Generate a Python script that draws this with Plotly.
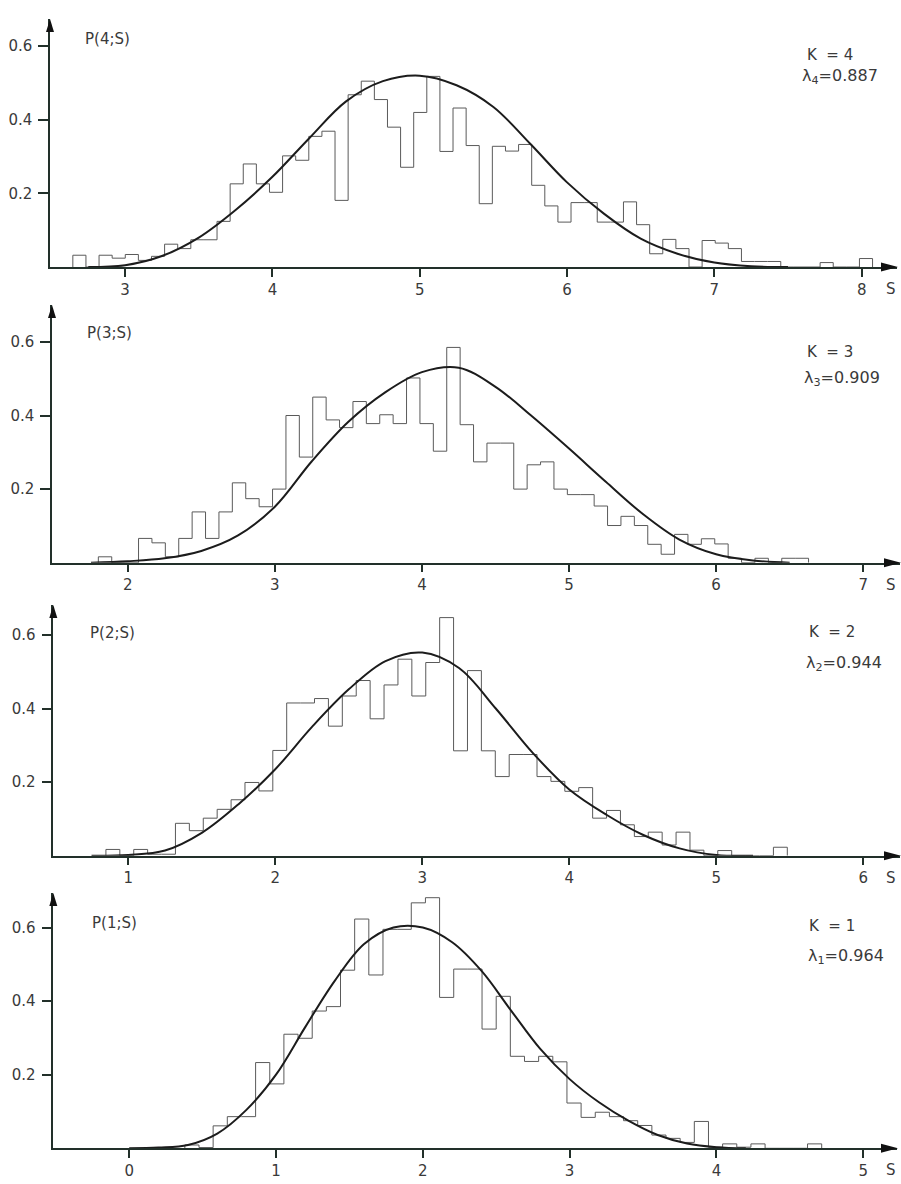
import numpy as np
import plotly.graph_objects as go

W, H = 901, 1184

# ---- K = 4 ----
k4_start, k4_width = 2.645, 0.089
k4_hist = [0.032, 0, 0.032, 0.024, 0.034, 0.018, 0.029, 0.062, 0.05, 0.074,
           0.074, 0.124, 0.226, 0.28, 0.226, 0.203, 0.302, 0.29, 0.355, 0.369,
           0.181, 0.468, 0.505, 0.455, 0.38, 0.271, 0.42, 0.518, 0.314, 0.432,
           0.33, 0.172, 0.328, 0.315, 0.333, 0.222, 0.166, 0.122, 0.175, 0.175,
           0.122, 0.122, 0.177, 0.115, 0.036, 0.075, 0.05, 0, 0.072, 0.065,
           0.05, 0.015, 0.015, 0.015, 0, 0, 0, 0.012, 0, 0, 0.023]
k4_curve_s = [2.75, 3.0, 3.25, 3.5, 3.75, 4.0, 4.25, 4.5, 4.75, 5.0, 5.25, 5.5,
              5.75, 6.0, 6.25, 6.5, 6.75, 7.0, 7.25, 7.5]
k4_curve_p = [0, 0.005, 0.03, 0.08, 0.155, 0.245, 0.35, 0.45, 0.505, 0.52, 0.494,
              0.435, 0.335, 0.23, 0.145, 0.077, 0.036, 0.012, 0.002, 0]

# ---- K = 3 ----
k3_start, k3_width = 1.80, 0.0911
k3_hist = [0.016, 0, 0, 0.066, 0.054, 0.016, 0.066, 0.138, 0.066, 0.138,
           0.217, 0.174, 0.152, 0.2, 0.4, 0.287, 0.45, 0.388, 0.367, 0.438,
           0.378, 0.402, 0.378, 0.502, 0.378, 0.303, 0.585, 0.375, 0.274, 0.325,
           0.325, 0.2, 0.266, 0.274, 0.2, 0.185, 0.185, 0.154, 0.101, 0.126,
           0.101, 0.05, 0.023, 0.077, 0.05, 0.065, 0.051, 0.012, 0, 0.012,
           0, 0.012, 0.012]
k3_curve_s = [1.75, 2.0, 2.25, 2.5, 2.75, 3.0, 3.25, 3.5, 3.75, 4.0, 4.25,
              4.5, 4.75, 5.0, 5.25, 5.5, 5.75, 6.0, 6.25, 6.5]
k3_curve_p = [0, 0.004, 0.012, 0.032, 0.074, 0.152, 0.275, 0.383, 0.463, 0.518,
              0.53, 0.478, 0.397, 0.31, 0.22, 0.133, 0.063, 0.023, 0.006, 0]

# ---- K = 2 ----
k2_start, k2_width = 0.848, 0.0946
k2_hist = [0.017, 0, 0.017, 0.004, 0.004, 0.088, 0.068, 0.102, 0.126, 0.152,
           0.199, 0.176, 0.286, 0.415, 0.415, 0.427, 0.352, 0.434, 0.476, 0.372,
           0.464, 0.534, 0.434, 0.525, 0.647, 0.285, 0.503, 0.285, 0.215, 0.275,
           0.275, 0.215, 0.202, 0.175, 0.185, 0.102, 0.123, 0.084, 0.052, 0.064,
           0.029, 0.064, 0.015, 0, 0.014, 0, 0, 0, 0.023]
k2_curve_s = [0.75, 1.0, 1.25, 1.5, 1.75, 2.0, 2.25, 2.5, 2.75, 3.0,
              3.25, 3.5, 3.75, 4.0, 4.25, 4.5, 4.75, 5.0, 5.25]
k2_curve_p = [0, 0.002, 0.014, 0.062, 0.14, 0.235, 0.35, 0.452, 0.529, 0.552,
              0.51, 0.40, 0.28, 0.18, 0.112, 0.057, 0.02, 0.002, 0]

# ---- K = 1 ----
k1_start, k1_width = 0.379, 0.0964
k1_hist = [0.009, 0.002, 0.061, 0.086, 0.086, 0.233, 0.175, 0.31, 0.299, 0.373,
           0.385, 0.484, 0.623, 0.471, 0.595, 0.595, 0.667, 0.681, 0.41, 0.487,
           0.487, 0.324, 0.413, 0.25, 0.236, 0.25, 0.235, 0.123, 0.084, 0.098,
           0.086, 0.075, 0.062, 0.036, 0.027, 0.016, 0.073, 0.003, 0.012, 0.003,
           0.012, 0, 0, 0, 0.012]
k1_curve_s = [0.0, 0.2, 0.4, 0.6, 0.8, 1.0, 1.2, 1.4, 1.6, 1.8, 2.0, 2.2,
              2.4, 2.6, 2.8, 3.0, 3.2, 3.4, 3.6, 3.8, 4.0, 4.2]
k1_curve_p = [0, 0.002, 0.009, 0.04, 0.105, 0.2, 0.33, 0.455, 0.555, 0.6, 0.6,
              0.56, 0.482, 0.375, 0.27, 0.188, 0.125, 0.075, 0.036, 0.013,
              0.003, 0]

panels = [
    dict(k="4", lam="0.887", start=k4_start, width=k4_width, hist=k4_hist,
         cs=k4_curve_s, cp=k4_curve_p, xt=[3, 4, 5, 6, 7, 8]),
    dict(k="3", lam="0.909", start=k3_start, width=k3_width, hist=k3_hist,
         cs=k3_curve_s, cp=k3_curve_p, xt=[2, 3, 4, 5, 6, 7]),
    dict(k="2", lam="0.944", start=k2_start, width=k2_width, hist=k2_hist,
         cs=k2_curve_s, cp=k2_curve_p, xt=[1, 2, 3, 4, 5, 6]),
    dict(k="1", lam="0.964", start=k1_start, width=k1_width, hist=k1_hist,
         cs=k1_curve_s, cp=k1_curve_p, xt=[0, 1, 2, 3, 4, 5]),
]

# panel geometry in pixels (left, right, baseline, arrow top), x ranges,
# and where the labels sit
geom = [
    dict(x0=50, x1=897, yb=267, yt=19, xr=[2.49, 8.24],
         p_xy=(83, 39), k_xy=(805, 55), l_xy=(800, 77)),
    dict(x0=52, x1=900, yb=562.7, yt=305, xr=[1.485, 7.25],
         p_xy=(85, 333), k_xy=(805, 352), l_xy=(802, 379)),
    dict(x0=53.3, x1=900, yb=855.7, yt=605, xr=[0.49, 6.25],
         p_xy=(88, 633), k_xy=(807, 632), l_xy=(804, 663)),
    dict(x0=53.3, x1=897, yb=1148.3, yt=893, xr=[-0.517, 5.23],
         p_xy=(90, 923), k_xy=(807, 926), l_xy=(806, 956)),
]
PX_PER_UNIT = 368.0


def fx(px):
    return px / W


def fy(py):
    return 1 - py / H


AXC = "#22302a"
TXT = "#3a3a3a"
FONT = "DejaVu Sans, Liberation Sans, sans-serif"

fig = go.Figure()
layout = {}
annotations = []
shapes = []

for i, (p, g) in enumerate(zip(panels, geom), start=1):
    sfx = "" if i == 1 else str(i)
    xa, ya = "x" + sfx, "y" + sfx

    edges = p["start"] + p["width"] * np.arange(len(p["hist"]) + 1)
    hx = [edges[0]] + list(edges[:-1]) + [edges[-1]]
    hy = [0] + list(p["hist"]) + [0]
    fig.add_trace(go.Scatter(x=hx, y=hy, mode="lines", line_shape="hv",
                             line=dict(color="#5a5a5a", width=1),
                             xaxis=xa, yaxis=ya, showlegend=False))
    fig.add_trace(go.Scatter(x=p["cs"], y=p["cp"], mode="lines",
                             line=dict(color="#1c1c1c", width=2, shape="spline",
                                       smoothing=1.0),
                             xaxis=xa, yaxis=ya, showlegend=False))

    ytop = (g["yb"] - g["yt"]) / PX_PER_UNIT
    layout["xaxis" + sfx] = dict(
        domain=[fx(g["x0"]), fx(g["x1"])], range=g["xr"], anchor=ya,
        showline=True, linecolor=AXC, linewidth=1.5, showgrid=False, zeroline=False,
        ticks="outside", ticklen=8, tickwidth=1.5, tickcolor=AXC,
        tickvals=p["xt"], ticktext=[str(v) for v in p["xt"]],
        tickfont=dict(size=15, color=TXT, family=FONT), ticklabelstandoff=0,
        automargin=False, fixedrange=True)
    layout["yaxis" + sfx] = dict(
        domain=[fy(g["yb"]), fy(g["yt"])], range=[0, ytop], anchor=xa,
        showline=True, linecolor=AXC, linewidth=1.5, showgrid=False, zeroline=False,
        ticks="outside", ticklen=10, tickwidth=1.5, tickcolor=AXC,
        tickvals=[0.2, 0.4, 0.6], ticktext=["0.2", "0.4", "0.6"],
        tickfont=dict(size=15, color=TXT, family=FONT), ticklabelstandoff=3,
        automargin=False, fixedrange=True)

    # axis arrowheads
    tipx, by = g["x1"] + 1, g["yb"]
    shapes.append(dict(type="path", xref="paper", yref="paper",
                       path=f"M{fx(tipx)},{fy(by)} L{fx(tipx - 17)},{fy(by - 4.5)} "
                            f"L{fx(tipx - 17)},{fy(by + 4.5)} Z",
                       fillcolor="#111111", line=dict(width=0)))
    ax0, ty = g["x0"], g["yt"]
    shapes.append(dict(type="path", xref="paper", yref="paper",
                       path=f"M{fx(ax0)},{fy(ty)} L{fx(ax0 - 4)},{fy(ty + 13)} "
                            f"L{fx(ax0 + 4)},{fy(ty + 13)} Z",
                       fillcolor="#111111", line=dict(width=0)))

    # text labels
    base_font = dict(size=15, color=TXT, family=FONT)
    annotations.append(dict(x=fx(g["p_xy"][0]), y=fy(g["p_xy"][1]),
                            xref="paper", yref="paper", xanchor="left", yanchor="middle",
                            text=f"P({p['k']};S)", showarrow=False, font=base_font))
    annotations.append(dict(x=fx(g["k_xy"][0]), y=fy(g["k_xy"][1]),
                            xref="paper", yref="paper", xanchor="left", yanchor="middle",
                            text=f"K  = {p['k']}", showarrow=False, font=base_font))
    annotations.append(dict(x=fx(g["l_xy"][0]), y=fy(g["l_xy"][1]),
                            xref="paper", yref="paper", xanchor="left", yanchor="middle",
                            text=f"λ<sub>{p['k']}</sub>={p['lam']}", showarrow=False,
                            font=dict(size=16, color=TXT, family=FONT)))
    annotations.append(dict(x=fx(891), y=fy(g["yb"] + 22), xref="paper", yref="paper",
                            xanchor="center", yanchor="middle", text="S",
                            showarrow=False, font=base_font))

fig.update_layout(
    width=W, height=H, margin=dict(l=0, r=0, t=0, b=0),
    paper_bgcolor="white", plot_bgcolor="white",
    template="none", showlegend=False,
    annotations=annotations, shapes=shapes, **layout)

fig.write_html("out.html", config={"displayModeBar": False},
               post_script="document.body.style.margin='0';document.body.style.overflow='hidden';")
